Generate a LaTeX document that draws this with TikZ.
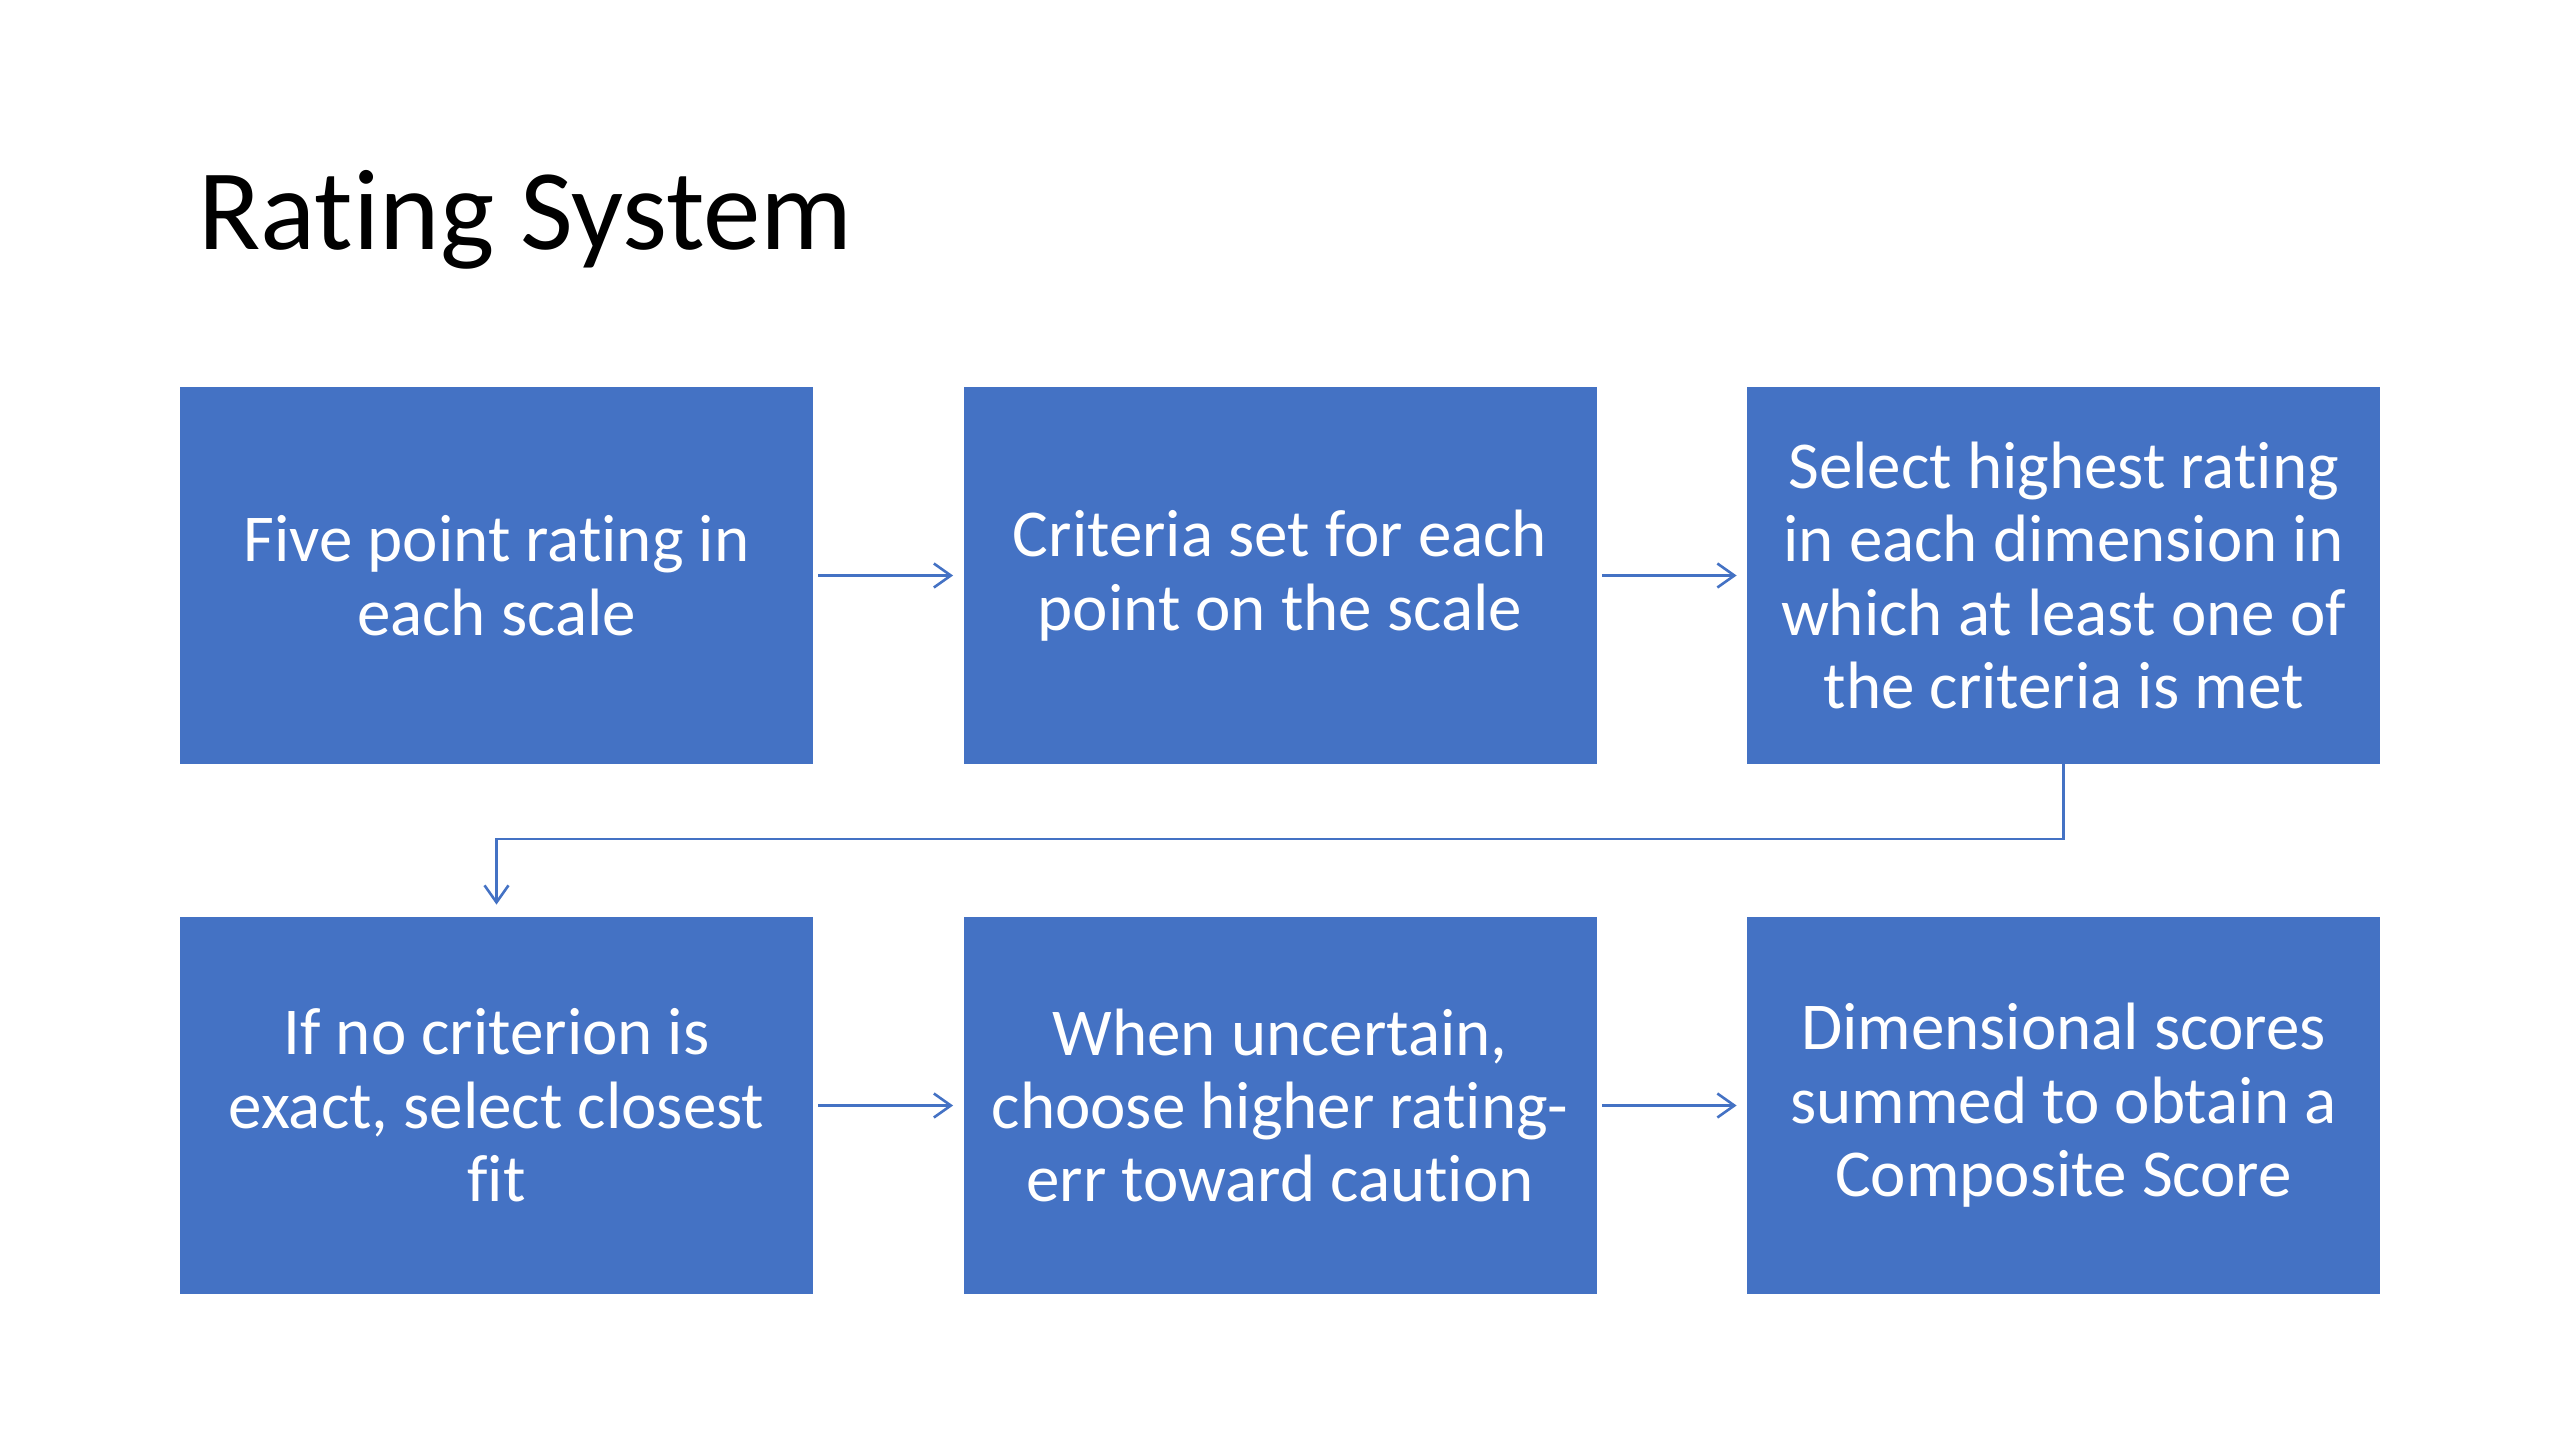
\documentclass[tikz,border=0pt]{standalone}
\usepackage{fontspec}
\setmainfont{Carlito}[Ligatures=NoCommon]
\usetikzlibrary{arrows.meta}
\definecolor{boxblue}{HTML}{4472C4}
\tikzset{
  stepbox/.style={rectangle, fill=boxblue, draw=none, minimum width=316.5pt, minimum height=188.5pt,
    inner sep=0pt, align=center, text=white, font=\fontsize{33.5}{36.7}\selectfont},
  link/.style={draw=boxblue, line width=1.3pt, -{Straight Barb[length=8.5pt,width=12pt,line width=1.3pt]}},
}
\begin{document}
\begin{tikzpicture}[x=0.5pt,y=-0.5pt]
\useasboundingbox (0,0) rectangle (2560,1440);
\node[anchor=base west, inner sep=0pt, font=\fontsize{57.5}{60}\selectfont] (title) at (198,249) {Rating System};
\node[stepbox] (b1) at (496.5,575.5) {Five point rating in\\each scale};
\node[stepbox] (b2) at (1280,575.5) {Criteria set for each\\point on the scale};
\node[stepbox] (b3) at (2063.5,575.5) {Select highest rating\\in each dimension in\\which at least one of\\the criteria is met};
\node[stepbox] (b4) at (496.5,1105.5) {If no criterion is\\exact, select closest\\fit};
\node[stepbox] (b5) at (1280,1105.5) {When uncertain,\\choose higher rating-\\err toward caution};
\node[stepbox] (b6) at (2063.5,1105.5) {Dimensional scores\\summed to obtain a\\Composite Score};
\coordinate (c1) at (2063.5,839);
\coordinate (c2) at (496.5,839);
\draw[link, shorten <=2.5pt, shorten >=5pt] (b1.east) -- (b2.west);
\draw[link, shorten <=2.5pt, shorten >=5pt] (b2.east) -- (b3.west);
\draw[link, shorten <=2.5pt, shorten >=5pt] (b4.east) -- (b5.west);
\draw[link, shorten <=2.5pt, shorten >=5pt] (b5.east) -- (b6.west);
\draw[link, shorten >=6pt] (b3.south) -- (c1) -- (c2) -- (b4.north);
\end{tikzpicture}
\end{document}
